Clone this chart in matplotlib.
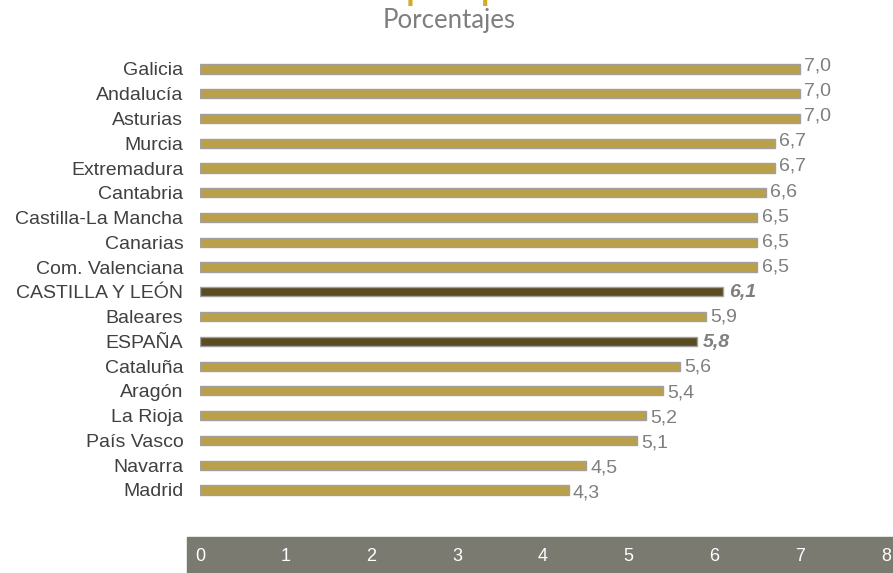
import matplotlib
matplotlib.use("Agg")
import matplotlib.pyplot as plt
from matplotlib.patches import Rectangle

regiones = ["Galicia", "Andalucía", "Asturias", "Murcia", "Extremadura", "Cantabria",
            "Castilla-La Mancha", "Canarias", "Com. Valenciana", "CASTILLA Y LEÓN",
            "Baleares", "ESPAÑA", "Cataluña", "Aragón", "La Rioja", "País Vasco",
            "Navarra", "Madrid"]
valores = [7.0, 7.0, 7.0, 6.7, 6.7, 6.6, 6.5, 6.5, 6.5, 6.1,
           5.9, 5.8, 5.6, 5.4, 5.2, 5.1, 4.5, 4.3]
destacadas = ["CASTILLA Y LEÓN", "ESPAÑA"]
ticks_x = [0, 1, 2, 3, 4, 5, 6, 7, 8]

oro = "#B9A049"
oscuro = "#5A4D22"
gris_banda = "#7A7A71"

plt.rcParams['font.family'] = ['Liberation Sans', 'DejaVu Sans']

fig = plt.figure(figsize=(8.93, 5.73), dpi=100)
# banda gris del eje x
fig.patches.append(Rectangle((187 / 893, 0), 1 - 187 / 893, 36 / 573,
                             transform=fig.transFigure, color=gris_banda, zorder=-5))

ax = fig.add_axes([200 / 893, 36 / 573, 686 / 893, 1 - 40 / 573 - 36 / 573])
ax.patch.set_alpha(0)
ax.set_zorder(2)

n = len(regiones)
ys = [n - 1 - i for i in range(n)]
colores = [oscuro if r in destacadas else oro for r in regiones]
ax.barh(ys, valores, height=0.37, color=colores, edgecolor="#A0A0A0", linewidth=1)

for i, (y, v, r) in enumerate(zip(ys, valores, regiones)):
    txt = f"{v:.1f}".replace(".", ",")
    dy = 2.2 - 4.4 * i / (n - 1)
    if r in destacadas:
        ax.annotate(txt, (v, y), xytext=(4, dy), textcoords="offset points",
                    ha="left", va="center", fontsize=14, color="#7F7F7F",
                    fontweight="bold", fontstyle="italic")
    else:
        ax.annotate(txt, (v, y), xytext=(3, dy), textcoords="offset points",
                    ha="left", va="center", fontsize=14, color="#7F7F7F")

ax.set_yticks(ys)
ax.set_yticklabels(regiones, fontsize=14, color="#404040")
ax.set_xlim(0, 8)
ax.set_ylim(-1.9, n - 1 + 1.17)
ax.set_xticks(ticks_x)
ax.set_xticklabels([str(t) for t in ticks_x], fontsize=13, color="white")
ax.tick_params(axis="x", length=0, pad=8)
ax.tick_params(axis="y", length=0, pad=12)
for s in ax.spines.values():
    s.set_visible(False)

fig.text(0.572, 1 + 1 / 573, "Tasa de paro por comunidades", ha="center",
         va="baseline", fontsize=22, color="#D4AA2A", fontweight="bold")
fig.text(0.503, 0.986, "Porcentajes", ha="center", va="top",
         fontsize=18.5, color="#7F7F7F", family=["Lato", "DejaVu Sans"])

fig.savefig("out.png", dpi=100)
